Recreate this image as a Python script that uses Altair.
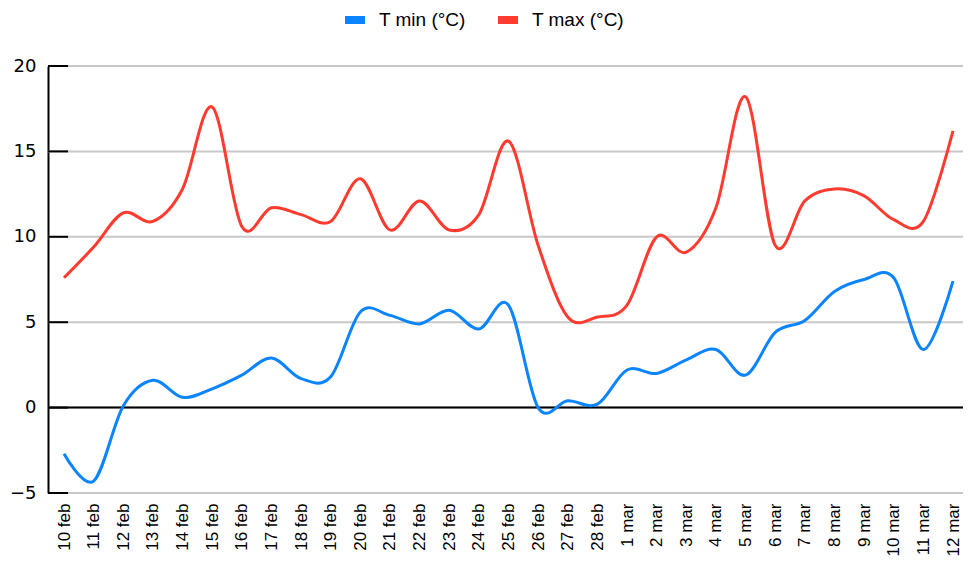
import altair as alt
import pandas as pd

days = ["10 feb", "11 feb", "12 feb", "13 feb", "14 feb", "15 feb", "16 feb", "17 feb",
        "18 feb", "19 feb", "20 feb", "21 feb", "22 feb", "23 feb", "24 feb", "25 feb",
        "26 feb", "27 feb", "28 feb", "1 mar", "2 mar", "3 mar", "4 mar", "5 mar",
        "6 mar", "7 mar", "8 mar", "9 mar", "10 mar", "11 mar", "12 mar"]
tmin = [-2.7, -4.3, 0.1, 1.6, 0.6, 1.1, 1.9, 2.9, 1.7, 1.8, 5.6, 5.4, 4.9, 5.7, 4.6, 6.0,
        0.0, 0.4, 0.2, 2.2, 2.0, 2.8, 3.4, 1.9, 4.4, 5.1, 6.8, 7.5, 7.6, 3.4, 7.4]
tmax = [7.6, 9.4, 11.4, 10.9, 12.8, 17.6, 10.6, 11.7, 11.3, 10.9, 13.4, 10.4, 12.1, 10.4,
        11.3, 15.6, 9.5, 5.3, 5.3, 6.0, 10.0, 9.1, 11.7, 18.2, 9.5, 12.1, 12.8, 12.4, 11.0,
        10.9, 16.2]
series = ["T min (°C)", "T max (°C)"]
colors = ["#0a84ff", "#ff3b30"]
y_ticks = [-5, 0, 5, 10, 15, 20]

rows = []
for d, a, b in zip(days, tmin, tmax):
    rows.append({"day": d, "series": series[0], "value": a})
    rows.append({"day": d, "series": series[1], "value": b})
df = pd.DataFrame(rows)
ticks_df = pd.DataFrame({"value": y_ticks})
zero_df = pd.DataFrame({"value": [0]})

W, H = 911, 427
yscale = alt.Scale(domain=[-5, 20], nice=False, zero=False)
yaxis = alt.Axis(title=None, values=y_ticks, labelFont="DejaVu Sans",
                 labelFontSize=18, labelColor="#000", labelPadding=12,
                 tickSize=0, domain=True, domainColor="#000", domainWidth=2,
                 grid=False)

grid_rules = alt.Chart(ticks_df).mark_rule(color="#c8c8c8", strokeWidth=2).encode(
    y=alt.Y("value:Q", scale=yscale, axis=yaxis), x=alt.value(0), x2=alt.value(W + 4)
)

zero_rule = alt.Chart(zero_df).mark_rule(color="#000", strokeWidth=2).encode(
    y=alt.Y("value:Q", scale=yscale, axis=yaxis), x=alt.value(0), x2=alt.value(W + 4)
)

lines = alt.Chart(df).mark_line(strokeWidth=3, interpolate="cardinal").encode(
    x=alt.X("day:O", sort=days, scale=alt.Scale(type="point", range=[16, 905], padding=0),
            axis=alt.Axis(title=None, labelAngle=270, labelFont="Liberation Sans",
                          labelFontSize=17, labelColor="#000", labelPadding=10,
                          domain=False, ticks=False, grid=False)),
    y=alt.Y("value:Q", scale=yscale, axis=yaxis),
    color=alt.Color("series:N", sort=series,
                    scale=alt.Scale(domain=series, range=colors),
                    legend=alt.Legend(title=None, orient="none", direction="horizontal",
                                      legendX=293, legendY=-60,
                                      symbolType="stroke", symbolSize=400,
                                      symbolStrokeWidth=8,
                                      labelFont="Liberation Sans", labelFontSize=19,
                                      labelColor="#000", labelOffset=10,
                                      columnPadding=16)),
)

tick_rules = alt.Chart(ticks_df).mark_rule(color="#000", strokeWidth=2).encode(
    y=alt.Y("value:Q", scale=yscale, axis=yaxis), x=alt.value(0), x2=alt.value(20)
)

chart = alt.layer(grid_rules, zero_rule, lines, tick_rules).properties(
    width=W, height=H,
    autosize=alt.AutoSizeParams(type="none"),
    padding={"left": 40, "top": 58, "right": 4, "bottom": 64},
).configure_view(stroke=None).configure_axis(labelColor="#000")

chart.save("out.html", embed_options={"renderer": "svg", "actions": False})
